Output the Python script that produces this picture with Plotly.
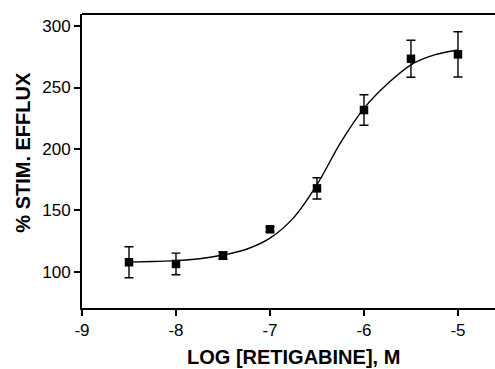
import plotly.graph_objects as go

# Data
log_conc = [-8.5, -8.0, -7.5, -7.0, -6.5, -6.0, -5.5, -5.0]
efflux = [107.9, 106.5, 113.3, 134.7, 168.0, 231.7, 273.4, 277.0]
sem = [12.6, 8.8, 3.0, 2.0, 8.6, 12.4, 15.0, 18.4]

curve_x = [-8.5, -8.25, -8.0, -7.75, -7.5, -7.25, -7.0, -6.75, -6.5, -6.25, -6.0, -5.75, -5.5, -5.25, -5.0]
curve_y = [108.0, 108.5, 109.2, 110.8, 113.8, 118.5, 127.5, 144.0, 171.0, 205.0, 233.0, 253.0, 268.5, 276.5, 280.5]

x_ticks = [-9, -8, -7, -6, -5]
y_ticks = [100, 150, 200, 250, 300]

FONT = "Liberation Sans, Arial, sans-serif"

fig = go.Figure()
fig.add_trace(go.Scatter(
    x=curve_x, y=curve_y, mode="lines",
    line=dict(color="black", width=1.4, shape="spline", smoothing=1.0),
    hoverinfo="skip", showlegend=False,
))
fig.add_trace(go.Scatter(
    x=log_conc, y=efflux, mode="markers",
    marker=dict(symbol="square", size=8.5, color="black"),
    error_y=dict(type="data", array=sem, visible=True, color="black",
                 thickness=1.4, width=4.5),
    showlegend=False,
))

fig.update_layout(
    width=495, height=369,
    margin=dict(l=82, r=0, t=14, b=61),
    paper_bgcolor="white", plot_bgcolor="white",
    font=dict(family=FONT, color="black", size=17),
    xaxis=dict(
        range=[-9, -4.606], tickvals=x_ticks, ticktext=[str(v) for v in x_ticks],
        showgrid=False, zeroline=False, showline=True, linecolor="black", linewidth=2,
        ticks="outside", ticklen=6, tickwidth=1.5, tickcolor="black",
        tickfont=dict(size=17, family=FONT), mirror=False,
    ),
    yaxis=dict(
        range=[70.7, 309.8], tickvals=y_ticks, ticktext=[str(v) for v in y_ticks],
        showgrid=False, zeroline=False, showline=True, linecolor="black", linewidth=2,
        ticks="outside", ticklen=6, tickwidth=1.5, tickcolor="black",
        tickfont=dict(size=17, family=FONT),
    ),
    shapes=[dict(type="line", xref="paper", yref="paper", x0=0, x1=1, y0=1, y1=1,
                 line=dict(color="black", width=2))],
    annotations=[
        dict(text="<b>LOG [RETIGABINE], M</b>", x=-6.745, xref="x", y=-0.165, yref="paper",
             xanchor="center", yanchor="middle", showarrow=False,
             font=dict(size=20, family=FONT)),
        dict(text="<b>% STIM. EFFLUX</b>", x=-0.1416, xref="paper", y=0.53, yref="paper",
             xanchor="center", yanchor="middle", showarrow=False, textangle=-90,
             font=dict(size=20, family=FONT)),
    ],
)

fig.write_html("out.html")
